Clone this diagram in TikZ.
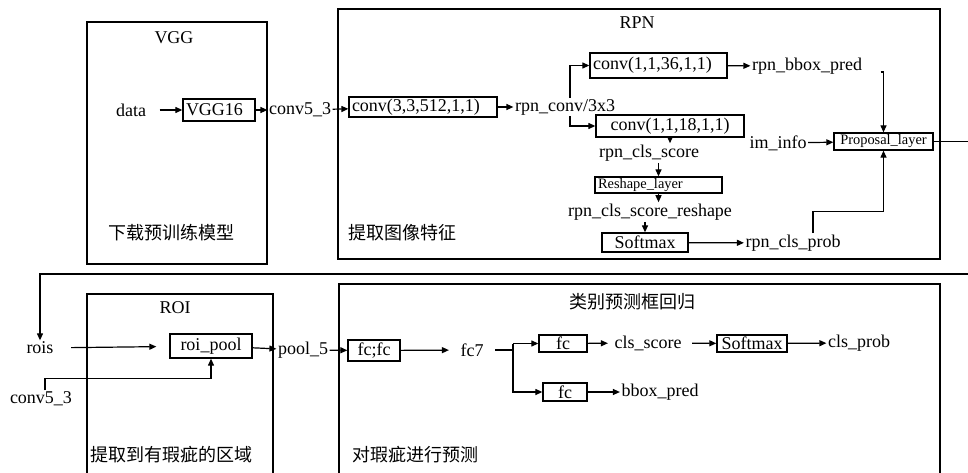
\documentclass[tikz,border=0pt]{standalone}
\usepackage{fontspec}
\setmainfont{Liberation Serif}
\newfontfamily\cjk{Noto Sans CJK SC}
\usetikzlibrary{arrows.meta}

\begin{document}
\begin{tikzpicture}[x=1pt,y=-1pt,line width=1.2pt,
    every node/.style={font=\fontsize{18}{21}\selectfont,inner sep=1pt},
    layer/.style={draw,line width=1.3pt,inner xsep=3pt,inner ysep=0pt},
    small/.style={font=\fontsize{14.4}{16}\selectfont},
    flow/.style={-{Triangle[length=7pt,width=6pt]}},
    caption/.style={font=\fontsize{18}{21}\selectfont\cjk,anchor=west,inner sep=0pt}]
 		\useasboundingbox (0,0) rectangle (968,473);
 		
 		% Frames of the four stages (the lower two run past the bottom edge).
 		\def\low{490}        %bottom of the lower frames.
 		\def\edge{972}       %return line, just outside the page.
 		\draw[line width=1.3pt] (87,22) rectangle (267,264);
 		\draw[line width=1.3pt] (338,9) rectangle (940,259);
 		\draw[line width=1.3pt] (87,294) rectangle (273,\low);
 		\draw[line width=1.3pt] (339,284) rectangle (940,\low);
 		
 		% Titles and captions.
 		\node (vggT) at (174,38) {VGG};
 		\node (rpnT) at (637,23) {RPN};
 		\node (roiT) at (175,308) {ROI};
 		\node[font=\fontsize{18}{21}\selectfont\cjk] (predT) at (632,302) {类别预测框回归};
 		\node[caption] (vggC) at (108,233) {下载预训练模型};
 		\node[caption] (rpnC) at (348,233) {提取图像特征};
 		\node[caption] (roiC) at (90,455) {提取到有瑕疵的区域};
 		\node[caption] (predC) at (352,455) {对瑕疵进行预测};
 		
 		% VGG
 		\node (data) at (131,110) {data};
 		\node[layer,text width=66pt,align=left,minimum height=22pt] (vgg16) at (219,110) {VGG16};
 		\node (conv53) at (300,110) {conv5\_3};
 		
 		% RPN
 		\node[layer,text width=142pt,align=left,minimum height=20pt] (conv3) at (423,107) {conv(3,3,512,1,1)};
 		\node (rpnconv) at (565,107) {rpn\_conv/3x3};
 		\coordinate (split) at (570,107);
 		\node[layer,text width=131pt,align=left,minimum height=25pt] (conv36) at (658.5,65.5) {conv(1,1,36,1,1)};
 		\node (rpnbbox) at (807,66) {rpn\_bbox\_pred};
 		\node[layer,minimum width=148pt,minimum height=22pt] (conv18) at (670,126) {conv(1,1,18,1,1)};
 		\node (rpnscore) at (649,153) {rpn\_cls\_score};
 		\node[layer,small,text width=121pt,align=left,minimum height=16pt] (reshape) at (658.5,185) {Reshape\_layer};
 		\node (rshp) at (650,212) {rpn\_cls\_score\_reshape};
 		\node[layer,minimum width=86pt,minimum height=19pt] (softA) at (645,242.5) {Softmax};
 		\node (rpnprob) at (793,243) {rpn\_cls\_prob};
 		\node (iminfo) at (778,143) {im\_info};
 		\node[layer,small,minimum width=99pt,minimum height=17pt] (proposal) at (883.5,141.5) {Proposal\_layer};
 		
 		% ROI
 		\node (rois) at (40,348) {rois};
 		\node (convlow) at (41,399) {conv5\_3};
 		\node[layer,minimum width=82pt,minimum height=24pt] (roipool) at (211,346) {roi\_pool};
 		\node (pool5) at (303,350) {pool\_5};
 		\coordinate (turn) at (\edge,274);
 		
 		% Prediction
 		\node[layer,minimum width=52pt,minimum height=21pt] (fcfc) at (374,350.5) {fc;fc};
 		\node (fc7) at (472,350) {fc7};
 		\coordinate (fork) at (513,350);
 		\node[layer,minimum width=48pt,minimum height=17pt] (fcA) at (563,343.5) {fc};
 		\node[layer,minimum width=44pt,minimum height=18pt] (fcB) at (565,392) {fc};
 		\node (clsscore) at (648,343) {cls\_score};
 		\node (bboxpred) at (660,392) {bbox\_pred};
 		\node[layer,minimum width=70pt,minimum height=17pt] (softB) at (752,343.5) {Softmax};
 		\node (clsprob) at (859,343) {cls\_prob};
 		
 		% Connections in the upper row.
 		\draw[flow,shorten <=12pt] (data) -- (vgg16);
 		\draw[flow] (vgg16) -- (conv53);
 		\draw[flow] (conv53) -- (conv3);
 		\draw[flow] (conv3) -- (rpnconv);
 		\draw[flow] (rpnconv.north -| split) |- (conv36.west);
 		\draw[flow] (rpnconv.south -| split) |- (conv18.west);
 		\draw[flow] (conv36) -- (rpnbbox);
 		\draw[flow] ([xshift=17pt,yshift=-6pt]rpnbbox.east) -| (proposal.north);
 		\draw[flow] (conv18.south) -- (conv18.south |- rpnscore.north);
 		\draw[flow] (rpnscore.south -| reshape.north) -- (reshape.north);
 		\draw[flow] (reshape.south) -- (reshape.south |- rshp.north);
 		\draw[flow] (rshp.south -| softA.north) -- (softA.north);
 		\draw[flow] (softA) -- (rpnprob);
 		\draw[flow] ([xshift=20pt]rpnprob.north) -- ++(0,-22) -| (proposal.south);
 		\draw[flow] (iminfo) -- (proposal);
 		\draw[flow] (proposal.east) -| (turn) -| (rois.north);
 		
 		% Connections in the lower row.
 		\draw[flow,shorten <=16pt,shorten >=13pt] (rois) -- (roipool);
 		\draw[flow] ([xshift=4pt]convlow.north) -- ++(0,-12) -| (roipool.south);
 		\draw[flow] (roipool) -- (pool5);
 		\draw[flow] (pool5) -- (fcfc);
 		\draw[flow,shorten >=10pt] (fcfc) -- (fc7);
 		\draw[shorten <=10pt] (fc7.east) -- (fork);
 		\draw[flow] (fork |- fcA.west) -- (fcA.west);
 		\draw[flow] (fork) |- (fcB.west);
 		\draw (fork) -- (fork |- fcA.west);
 		\draw[flow,shorten >=5pt] (fcA) -- (clsscore);
 		\draw[flow] (fcB) -- (bboxpred);
 		\draw[flow,shorten <=9pt] (clsscore) -- (softB);
 		\draw[flow] (softB) -- (clsprob);
 		\end{tikzpicture}
\end{document}
